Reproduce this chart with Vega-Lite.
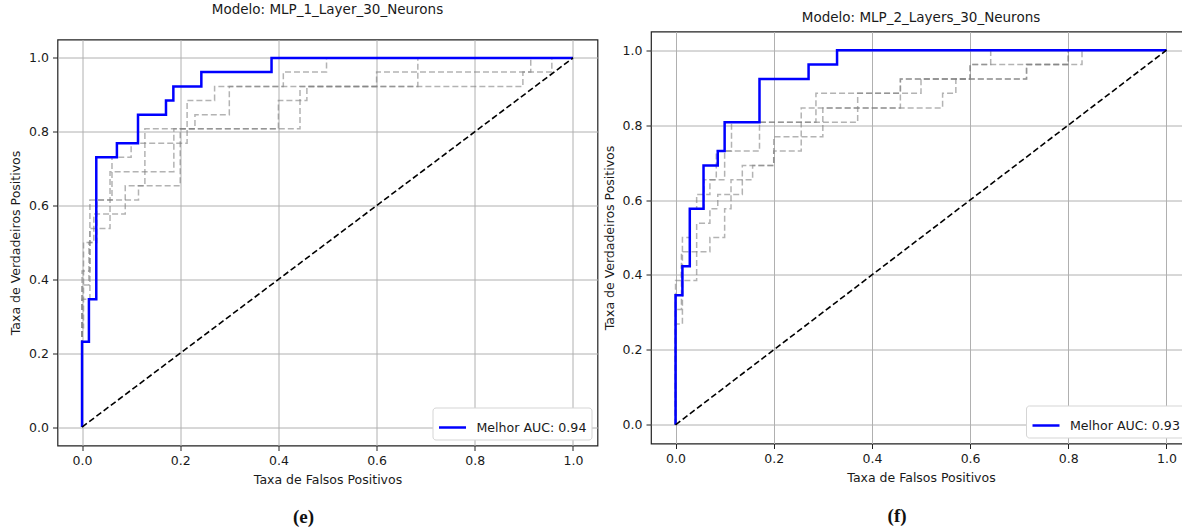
{
  "$schema": "https://vega.github.io/schema/vega-lite/v6.json",
  "padding": {"left": 8.5, "top": 0.5, "right": 0, "bottom": 0},
  "background": "white",
  "config": {
    "font": "DejaVu Sans",
    "view": {"stroke": "#222222", "strokeWidth": 1.2},
    "axis": {
      "grid": true, "gridColor": "#b0b0b0", "gridWidth": 1, "domain": false,
      "tickColor": "#222222", "tickSize": 5, "tickWidth": 1,
      "labelFont": "DejaVu Sans", "labelFontSize": 12.5, "labelColor": "#1a1a1a", "labelPadding": 4,
      "titleFont": "DejaVu Sans", "titleFontSize": 12.5, "titleFontWeight": "normal", "titleColor": "#1a1a1a"
    },
    "axisX": {"titlePadding": 6, "labelPadding": 4},
    "axisY": {"titlePadding": 6},
    "legend": {
      "orient": "bottom-right", "offset": 6, "padding": 5,
      "strokeColor": "#d5d5d5", "fillColor": "#ffffff", "cornerRadius": 3,
      "symbolType": "stroke", "symbolSize": 729, "symbolStrokeWidth": 2.5,
      "labelFont": "DejaVu Sans", "labelFontSize": 12.6, "labelColor": "#1a1a1a", "labelOffset": 9
    },
    "title": {"font": "DejaVu Sans", "fontWeight": "normal", "fontSize": 13.5, "color": "#1a1a1a", "anchor": "middle"}
  },
  "datasets": {
    "left": [
      {"c": "best", "x": 0, "y": 0}, {"c": "best", "x": 0, "y": 0.231}, {"c": "best", "x": 0.014, "y": 0.346},
      {"c": "best", "x": 0.029, "y": 0.731}, {"c": "best", "x": 0.071, "y": 0.769}, {"c": "best", "x": 0.114, "y": 0.846},
      {"c": "best", "x": 0.171, "y": 0.885}, {"c": "best", "x": 0.186, "y": 0.923}, {"c": "best", "x": 0.243, "y": 0.962},
      {"c": "best", "x": 0.386, "y": 1}, {"c": "best", "x": 1, "y": 1},
      {"c": "L1", "x": 0, "y": 0}, {"c": "L1", "x": 0, "y": 0.385}, {"c": "L1", "x": 0.014, "y": 0.5},
      {"c": "L1", "x": 0.03, "y": 0.615}, {"c": "L1", "x": 0.115, "y": 0.654}, {"c": "L1", "x": 0.2, "y": 0.808},
      {"c": "L1", "x": 0.4, "y": 0.885}, {"c": "L1", "x": 0.444, "y": 0.923}, {"c": "L1", "x": 0.898, "y": 0.962},
      {"c": "L1", "x": 0.957, "y": 1}, {"c": "L1", "x": 1, "y": 1},
      {"c": "L2", "x": 0, "y": 0}, {"c": "L2", "x": 0, "y": 0.423}, {"c": "L2", "x": 0.016, "y": 0.538},
      {"c": "L2", "x": 0.057, "y": 0.692}, {"c": "L2", "x": 0.187, "y": 0.769}, {"c": "L2", "x": 0.214, "y": 0.885},
      {"c": "L2", "x": 0.27, "y": 0.923}, {"c": "L2", "x": 0.41, "y": 0.962}, {"c": "L2", "x": 0.498, "y": 1},
      {"c": "L2", "x": 1, "y": 1},
      {"c": "L3", "x": 0, "y": 0}, {"c": "L3", "x": 0, "y": 0.269}, {"c": "L3", "x": 0.003, "y": 0.5},
      {"c": "L3", "x": 0.024, "y": 0.577}, {"c": "L3", "x": 0.088, "y": 0.654}, {"c": "L3", "x": 0.128, "y": 0.808},
      {"c": "L3", "x": 0.23, "y": 0.846}, {"c": "L3", "x": 0.3, "y": 0.923}, {"c": "L3", "x": 0.684, "y": 0.962},
      {"c": "L3", "x": 0.914, "y": 1}, {"c": "L3", "x": 1, "y": 1},
      {"c": "L4", "x": 0, "y": 0}, {"c": "L4", "x": 0, "y": 0.346}, {"c": "L4", "x": 0.016, "y": 0.615},
      {"c": "L4", "x": 0.061, "y": 0.731}, {"c": "L4", "x": 0.1, "y": 0.769}, {"c": "L4", "x": 0.187, "y": 0.808},
      {"c": "L4", "x": 0.444, "y": 0.885}, {"c": "L4", "x": 0.458, "y": 0.923}, {"c": "L4", "x": 0.6, "y": 0.962},
      {"c": "L4", "x": 0.684, "y": 1}, {"c": "L4", "x": 1, "y": 1}
    ],
    "right": [
      {"c": "best", "x": 0, "y": 0}, {"c": "best", "x": 0, "y": 0.346}, {"c": "best", "x": 0.014, "y": 0.423},
      {"c": "best", "x": 0.029, "y": 0.577}, {"c": "best", "x": 0.057, "y": 0.692}, {"c": "best", "x": 0.086, "y": 0.731},
      {"c": "best", "x": 0.1, "y": 0.808}, {"c": "best", "x": 0.171, "y": 0.923}, {"c": "best", "x": 0.271, "y": 0.962},
      {"c": "best", "x": 0.329, "y": 1}, {"c": "best", "x": 1, "y": 1},
      {"c": "R1", "x": 0, "y": 0}, {"c": "R1", "x": 0, "y": 0.269}, {"c": "R1", "x": 0.014, "y": 0.385},
      {"c": "R1", "x": 0.043, "y": 0.462}, {"c": "R1", "x": 0.07, "y": 0.5}, {"c": "R1", "x": 0.1, "y": 0.577},
      {"c": "R1", "x": 0.113, "y": 0.615}, {"c": "R1", "x": 0.136, "y": 0.692}, {"c": "R1", "x": 0.2, "y": 0.731},
      {"c": "R1", "x": 0.256, "y": 0.769}, {"c": "R1", "x": 0.3, "y": 0.846}, {"c": "R1", "x": 0.544, "y": 0.885},
      {"c": "R1", "x": 0.571, "y": 0.923}, {"c": "R1", "x": 0.715, "y": 0.962}, {"c": "R1", "x": 0.828, "y": 1},
      {"c": "R1", "x": 1, "y": 1},
      {"c": "R2", "x": 0, "y": 0}, {"c": "R2", "x": 0, "y": 0.385}, {"c": "R2", "x": 0.012, "y": 0.423},
      {"c": "R2", "x": 0.03, "y": 0.577}, {"c": "R2", "x": 0.058, "y": 0.654}, {"c": "R2", "x": 0.083, "y": 0.731},
      {"c": "R2", "x": 0.171, "y": 0.808}, {"c": "R2", "x": 0.256, "y": 0.846}, {"c": "R2", "x": 0.286, "y": 0.885},
      {"c": "R2", "x": 0.5, "y": 0.923}, {"c": "R2", "x": 0.6, "y": 0.962}, {"c": "R2", "x": 0.642, "y": 1},
      {"c": "R2", "x": 1, "y": 1},
      {"c": "R3", "x": 0, "y": 0}, {"c": "R3", "x": 0, "y": 0.308}, {"c": "R3", "x": 0.012, "y": 0.462},
      {"c": "R3", "x": 0.043, "y": 0.538}, {"c": "R3", "x": 0.07, "y": 0.577}, {"c": "R3", "x": 0.086, "y": 0.615},
      {"c": "R3", "x": 0.113, "y": 0.654}, {"c": "R3", "x": 0.157, "y": 0.692}, {"c": "R3", "x": 0.2, "y": 0.769},
      {"c": "R3", "x": 0.256, "y": 0.808}, {"c": "R3", "x": 0.371, "y": 0.846}, {"c": "R3", "x": 0.458, "y": 0.923},
      {"c": "R3", "x": 0.6, "y": 0.962}, {"c": "R3", "x": 0.8, "y": 1}, {"c": "R3", "x": 1, "y": 1},
      {"c": "R4", "x": 0, "y": 0}, {"c": "R4", "x": 0, "y": 0.346}, {"c": "R4", "x": 0.014, "y": 0.5},
      {"c": "R4", "x": 0.029, "y": 0.577}, {"c": "R4", "x": 0.043, "y": 0.615}, {"c": "R4", "x": 0.07, "y": 0.654},
      {"c": "R4", "x": 0.1, "y": 0.731}, {"c": "R4", "x": 0.114, "y": 0.808}, {"c": "R4", "x": 0.286, "y": 0.846},
      {"c": "R4", "x": 0.371, "y": 0.885}, {"c": "R4", "x": 0.458, "y": 0.923}, {"c": "R4", "x": 0.715, "y": 0.962},
      {"c": "R4", "x": 0.8, "y": 1}, {"c": "R4", "x": 1, "y": 1}
    ],
    "diag": [{"x": 0, "y": 0}, {"x": 1, "y": 1}],
    "blank": [{"k": 1}]
  },
  "align": "none",
  "spacing": 3.5,
  "resolve": {"scale": {"color": "independent"}, "legend": {"color": "independent"}},
  "hconcat": [
    {
      "title": {"text": "(e)", "orient": "bottom", "font": "Liberation Serif", "fontSize": 19, "fontWeight": "bold", "offset": 22, "color": "#111111"},
      "resolve": {"scale": {"color": "independent"}, "legend": {"color": "independent"}},
      "spacing": 0,
      "vconcat": [
        {
          "width": 540, "height": 1,
          "view": {"stroke": null},
          "data": {"name": "blank"},
          "mark": {"type": "point", "opacity": 0, "size": 0}
        },
        {
          "width": 540, "height": 406,
          "title": {"text": "Modelo: MLP_1_Layer_30_Neurons", "offset": 23},
          "layer": [
            {
              "data": {"name": "left"},
              "transform": [{"filter": "datum.c != 'best'"}],
              "mark": {"type": "line", "interpolate": "step-after", "stroke": "#808080", "opacity": 0.6, "strokeDash": [6, 3], "strokeWidth": 1.5},
              "encoding": {
                "x": {"field": "x", "type": "quantitative", "scale": {"domain": [-0.05, 1.05], "nice": false, "zero": false},
                      "axis": {"values": [0, 0.2, 0.4, 0.6, 0.8, 1.0], "format": ".1f", "title": "Taxa de Falsos Positivos"}},
                "y": {"field": "y", "type": "quantitative", "scale": {"domain": [-0.05, 1.05], "nice": false, "zero": false},
                      "axis": {"values": [0, 0.2, 0.4, 0.6, 0.8, 1.0], "format": ".1f", "title": "Taxa de Verdadeiros Positivos"}},
                "detail": {"field": "c"},
                "order": {"value": null}
              }
            },
            {
              "data": {"name": "left"},
              "transform": [{"filter": "datum.c == 'best'"}],
              "mark": {"type": "line", "interpolate": "step-after", "strokeWidth": 2.5},
              "encoding": {
                "x": {"field": "x", "type": "quantitative"},
                "y": {"field": "y", "type": "quantitative"},
                "color": {"datum": "Melhor AUC: 0.94", "scale": {"range": ["#0000ff"]}, "legend": {"title": null, "orient": "bottom-right"}},
                "order": {"value": null}
              }
            },
            {
              "data": {"name": "diag"},
              "mark": {"type": "line", "stroke": "#000000", "strokeDash": [6, 3], "strokeWidth": 1.6},
              "encoding": {
                "x": {"field": "x", "type": "quantitative"},
                "y": {"field": "y", "type": "quantitative"}
              }
            }
          ]
        }
      ]
    },
    {
      "title": {"text": "(f)", "orient": "bottom", "font": "Liberation Serif", "fontSize": 19, "fontWeight": "bold", "offset": 23, "color": "#111111"},
      "resolve": {"scale": {"color": "independent"}, "legend": {"color": "independent"}},
      "spacing": 0,
      "vconcat": [
        {
          "width": 540, "height": 8.5,
          "view": {"stroke": null},
          "data": {"name": "blank"},
          "mark": {"type": "point", "opacity": 0, "size": 0}
        },
        {
          "width": 540, "height": 412,
          "title": {"text": "Modelo: MLP_2_Layers_30_Neurons", "offset": 7},
          "layer": [
            {
              "data": {"name": "right"},
              "transform": [{"filter": "datum.c != 'best'"}],
              "mark": {"type": "line", "interpolate": "step-after", "stroke": "#808080", "opacity": 0.6, "strokeDash": [6, 3], "strokeWidth": 1.5},
              "encoding": {
                "x": {"field": "x", "type": "quantitative", "scale": {"domain": [-0.05, 1.05], "nice": false, "zero": false},
                      "axis": {"values": [0, 0.2, 0.4, 0.6, 0.8, 1.0], "format": ".1f", "title": "Taxa de Falsos Positivos"}},
                "y": {"field": "y", "type": "quantitative", "scale": {"domain": [-0.05, 1.05], "nice": false, "zero": false},
                      "axis": {"values": [0, 0.2, 0.4, 0.6, 0.8, 1.0], "format": ".1f", "title": "Taxa de Verdadeiros Positivos"}},
                "detail": {"field": "c"},
                "order": {"value": null}
              }
            },
            {
              "data": {"name": "right"},
              "transform": [{"filter": "datum.c == 'best'"}],
              "mark": {"type": "line", "interpolate": "step-after", "strokeWidth": 2.5},
              "encoding": {
                "x": {"field": "x", "type": "quantitative"},
                "y": {"field": "y", "type": "quantitative"},
                "color": {"datum": "Melhor AUC: 0.93", "scale": {"range": ["#0000ff"]}, "legend": {"title": null, "orient": "bottom-right"}},
                "order": {"value": null}
              }
            },
            {
              "data": {"name": "diag"},
              "mark": {"type": "line", "stroke": "#000000", "strokeDash": [6, 3], "strokeWidth": 1.6},
              "encoding": {
                "x": {"field": "x", "type": "quantitative"},
                "y": {"field": "y", "type": "quantitative"}
              }
            }
          ]
        }
      ]
    }
  ]
}
